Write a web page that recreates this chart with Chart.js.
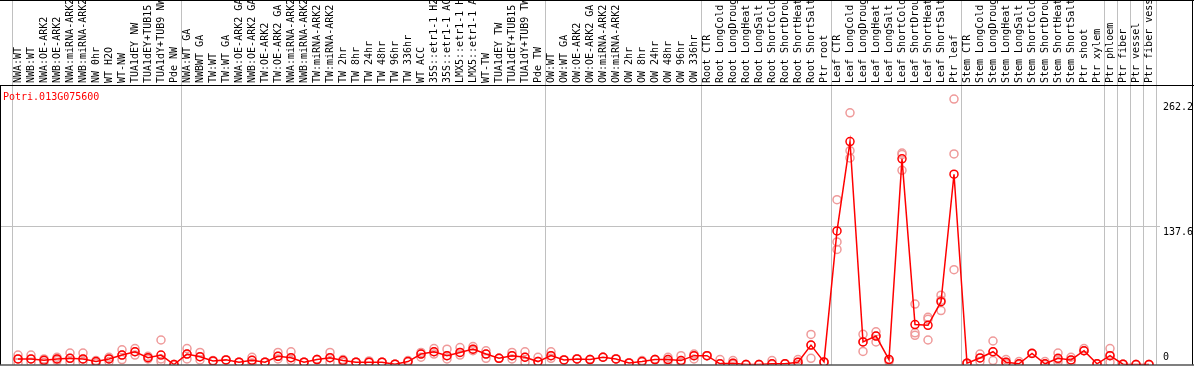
<!DOCTYPE html>
<html>
<head>
<meta charset="utf-8">
<title>Potri.013G075600</title>
<script src="https://cdn.jsdelivr.net/npm/chart.js@4.4.0/dist/chart.umd.min.js"></script>
<style>
  html, body { margin: 0; padding: 0; background: #fff; }
  #chart { display: block; }
</style>
</head>
<body>
<canvas id="chart" width="1194" height="370"></canvas>
<script>
// Expression profile chart

const geneName = 'Potri.013G075600';

const categories = [
  'NWA:WT', 'NWB:WT', 'NWA:OE-ARK2', 'NWB:OE-ARK2', 'NWA:miRNA-ARK2', 'NWB:miRNA-ARK2',
  'NW 0hr', 'WT H2O', 'WT-NW', 'TUA1dEY NW', 'TUA1dEY+TUB15 NW', 'TUA1dY+TUB9 NW', 'Pde NW',
  'NWA:WT GA', 'NWBWT GA', 'TW:WT', 'TW:WT GA', 'NWA:OE-ARK2 GA', 'NWB:OE-ARK2 GA',
  'TW:OE-ARK2', 'TW:OE-ARK2 GA', 'NWA:miRNA-ARK2 GA', 'NWB:miRNA-ARK2 GA', 'TW:miRNA-ARK2',
  'TW:miRNA-ARK2 GA', 'TW 2hr', 'TW 8hr', 'TW 24hr', 'TW 48hr', 'TW 96hr', 'TW 336hr',
  'WT ACC', '35S::etr1-1 H2O', '35S::etr1-1 ACC', 'LMX5::etr1-1 H2O', 'LMX5::etr1-1 ACC',
  'WT-TW', 'TUA1dEY TW', 'TUA1dEY+TUB15 TW', 'TUA1dY+TUB9 TW', 'Pde TW',
  'OW:WT', 'OW:WT GA', 'OW:OE-ARK2', 'OW:OE-ARK2 GA', 'OW:miRNA-ARK2', 'OW:miRNA-ARK2 GA',
  'OW 2hr', 'OW 8hr', 'OW 24hr', 'OW 48hr', 'OW 96hr', 'OW 336hr',
  'Root CTR', 'Root LongCold', 'Root LongDrought', 'Root LongHeat', 'Root LongSalt',
  'Root ShortCold', 'Root ShortDrought', 'Root ShortHeat', 'Root ShortSalt', 'Ptr root',
  'Leaf CTR', 'Leaf LongCold', 'Leaf LongDrought', 'Leaf LongHeat', 'Leaf LongSalt',
  'Leaf ShortCold', 'Leaf ShortDrought', 'Leaf ShortHeat', 'Leaf ShortSalt', 'Ptr leaf',
  'Stem CTR', 'Stem LongCold', 'Stem LongDrought', 'Stem LongHeat', 'Stem LongSalt',
  'Stem ShortCold', 'Stem ShortDrought', 'Stem ShortHeat', 'Stem ShortSalt', 'Ptr shoot',
  'Ptr xylem', 'Ptr phloem', 'Ptr fiber', 'Ptr vessel', 'Ptr fiber vessel'
];

// mean expression (red line)
const meanValues = [
  5.5, 5.5, 4.2, 5.5, 6.2, 5.5, 2.9, 5.5, 9.4, 12.7, 6.8, 9.4, 0,
  10.4, 7.8, 3.6, 4.6, 2.3, 4.2, 2.3, 8.1, 6.8, 2.3, 4.9, 6.8, 3.9, 2.3, 2.3, 2.3, 0.3, 2.9,
  10.4, 12.7, 8.8, 12.0, 15.3, 10.4, 6.2, 8.8, 7.2, 2.9,
  8.8, 4.6, 5.5, 4.9, 7.2, 5.5, 1.6, 2.9, 4.9, 4.9, 3.9, 8.8,
  8.8, 0.7, 1.3, 0, 0, 0.7, 0.7, 2.3, 19.3, 2.6,
  133, 221.9, 22.5, 28.3, 4.9, 204.7, 39.7, 39, 62.5, 189.4,
  1.3, 6.5, 12.7, 2.3, 0.7, 11, 0.7, 6.2, 4.6, 13.7, 0.7, 8.8, 0.3, 0, 0
];

// individual replicates (pink circles)
const rep1 = [
  9.4, 9.4, 5.5, 7.2, 11.4, 11.4, 3.9, 7.2, 14.6, 15.9, 8.1, 24.4, 0,
  15.9, 12.0, 3.9, 4.6, 2.3, 7.2, 2.3, 12.0, 12.7, 2.3, 4.9, 12.0, 4.9, 2.3, 3.6, 2.3, 0.3, 3.9,
  12.0, 15.9, 15.3, 16.9, 17.9, 13.7, 6.2, 12.0, 12.7, 7.2,
  12.7, 4.6, 5.5, 4.9, 7.2, 5.5, 1.6, 3.9, 4.9, 7.2, 8.8, 10.4,
  8.8, 4.9, 3.9, 0, 0, 3.9, 0.7, 4.9, 29.9, 2.3,
  164, 250.5, 30, 32.5, 4.9, 210.5, 60.2, 47, 69, 264.2,
  1.3, 10.4, 23.4, 4.9, 2.9, 11.1, 2.9, 11.4, 7.2, 15.9, 0.7, 15.9, 0.3, 0, 0
];
const rep2 = [
  5.5, 5.5, 4.2, 5.5, 6.2, 5.5, 2.9, 5.5, 9.4, 12.7, 6.8, 5.5, 0,
  10.4, 7.8, 3.6, 4.6, 2.3, 4.2, 2.3, 8.1, 6.8, 2.3, 4.9, 6.8, 3.9, 2.3, 2.3, 2.3, 0.3, 2.9,
  10.4, 12.7, 8.8, 12.0, 15.3, 10.4, 6.2, 8.8, 7.2, 2.9,
  8.8, 4.6, 5.5, 4.9, 7.2, 5.5, 1.6, 2.9, 4.9, 4.9, 3.9, 8.8,
  8.8, 0.7, 1.3, 0, 0, 0.7, 0.7, 2.3, 19.2, 2.3,
  122, 212.8, 22.5, 28.3, 4.9, 209, 31.5, 45, 64, 209.6,
  1.3, 6.5, 12.7, 2.3, 0.7, 11.1, 0.7, 4.9, 4.6, 13.7, 0.7, 8.8, 0.3, 0, 0
];
const rep3 = [
  1.6, 2.3, 2.3, 3.9, 2.3, 2.9, 1.6, 2.9, 4.9, 9.4, 5.5, 2.9, 0,
  5.5, 4.6, 2.9, 4.6, 2.3, 1.6, 2.3, 5.5, 3.9, 2.3, 4.9, 2.3, 2.3, 2.3, 2.3, 2.3, 0.3, 2.9,
  7.2, 10.4, 5.5, 9.4, 13.7, 6.2, 6.2, 5.5, 2.3, 2.9,
  6.2, 4.6, 5.5, 4.9, 7.2, 5.5, 1.6, 2.9, 4.9, 2.9, 2.3, 5.5,
  8.8, 0.7, 0, 0, 0, 0, 0.7, 0, 6.2, 2.3,
  114.5, 205.6, 13, 22.5, 2.9, 193.3, 29, 24.4, 53.7, 94.4,
  1.3, 2.9, 3.9, 0.7, 0, 11.1, 0, 2.3, 2.3, 13.7, 0.7, 2.3, 0.3, 0, 0
];

const yTicks = [0, 137.6, 262.2];
const yMax = 277.2;

// grey separators after these category counts
const groupBreaks = [0, 13, 41, 53, 63, 73, 84, 85, 86, 87, 88];

const monoFont = '10px "DejaVu Sans Mono", monospace';
const pink = '#ef9a9a';
const red = '#ff0000';

// Grey separators, drawn through the label band as well
const separatorPlugin = {
  id: 'separators',
  beforeDatasetsDraw(chart) {
    const ctx = chart.ctx;
    const xs = chart.scales.x;
    const ys = chart.scales.y;
    ctx.save();
    ctx.strokeStyle = '#c0c0c0';
    ctx.lineWidth = 1;
    groupBreaks.forEach(b => {
      const px = Math.round(xs.getPixelForValue(b - 0.5)) + 0.5;
      ctx.beginPath();
      ctx.moveTo(px, 0);
      ctx.lineTo(px, chart.chartArea.bottom);
      ctx.stroke();
    });
    const gy = Math.round(ys.getPixelForValue(yTicks[1])) + 0.5;
    ctx.beginPath();
    ctx.moveTo(0, gy);
    ctx.lineTo(1160, gy);
    ctx.stroke();
    ctx.restore();
  }
};

// Frame, rotated category labels, y labels and gene name
const decorPlugin = {
  id: 'decor',
  afterDraw(chart) {
    const ctx = chart.ctx;
    const xs = chart.scales.x;
    const ys = chart.scales.y;
    const area = chart.chartArea;
    const w = chart.width;

    ctx.save();
    ctx.fillStyle = '#000';
    ctx.fillRect(0, 0, w, 1);
    ctx.fillRect(0, area.top - 1, w, 1);
    ctx.fillRect(0, area.bottom, w, 1);
    ctx.fillRect(0, area.top, 1, area.bottom - area.top);
    ctx.fillRect(1192, 0, 1, area.bottom);

    ctx.font = monoFont;
    ctx.textAlign = 'left';
    ctx.textBaseline = 'middle';
    categories.forEach((label, i) => {
      const px = xs.getPixelForValue(i);
      ctx.save();
      ctx.translate(px, area.top - 3);
      ctx.rotate(-Math.PI / 2);
      ctx.fillText(label, 0, 0);
      ctx.restore();
    });

    yTicks.forEach(v => {
      const py = ys.getPixelForValue(v);
      if (v === 0) {
        ctx.textBaseline = 'bottom';
        ctx.fillText(String(v), 1163, py - 2);
      } else {
        ctx.textBaseline = 'top';
        ctx.fillText(String(v), 1163, py + 1);
      }
    });

    ctx.fillStyle = red;
    ctx.textBaseline = 'middle';
    ctx.fillText(geneName, 3, 97);
    ctx.restore();
  }
};

function replicateDataset(values) {
  return {
    data: values,
    showLine: false,
    pointRadius: 4,
    pointBorderWidth: 1.5,
    pointBorderColor: pink,
    pointBackgroundColor: 'transparent',
    clip: 0,
    order: 2
  };
}

function initChart() {
  const ctx = document.getElementById('chart').getContext('2d');

  new Chart(ctx, {
    type: 'line',
    data: {
      labels: categories,
      datasets: [
        {
          data: meanValues,
          borderColor: red,
          borderWidth: 1.5,
          tension: 0,
          pointRadius: 4,
          pointBorderWidth: 1.5,
          pointBorderColor: red,
          pointBackgroundColor: 'transparent',
          clip: 0,
          order: 1
        },
        replicateDataset(rep1),
        replicateDataset(rep2),
        replicateDataset(rep3)
      ]
    },
    options: {
      responsive: false,
      animation: false,
      devicePixelRatio: 1,
      layout: {
        padding: { top: 86, left: 11.5, right: 38.5, bottom: 1 }
      },
      plugins: {
        legend: { display: false },
        tooltip: { enabled: false }
      },
      scales: {
        x: {
          type: 'category',
          offset: true,
          display: false
        },
        y: {
          display: false,
          min: 0,
          max: yMax
        }
      }
    },
    plugins: [separatorPlugin, decorPlugin]
  });
}

document.addEventListener('DOMContentLoaded', initChart);
</script>
</body>
</html>
